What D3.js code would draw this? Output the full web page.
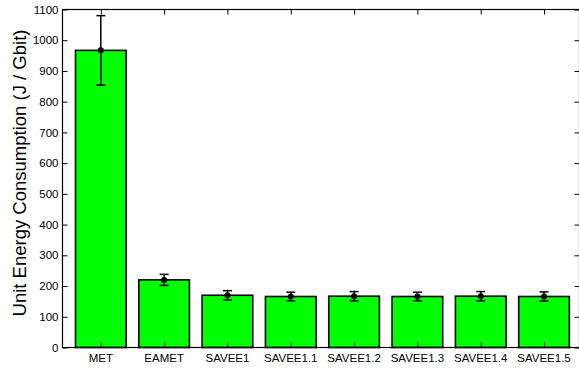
<!DOCTYPE html>
<html>
<head>
<meta charset="utf-8">
<script src="https://cdn.jsdelivr.net/npm/d3@7"></script>
<style>
  html, body { margin: 0; padding: 0; background: #fff; }
  svg { display: block; }
  text { font-family: "Liberation Sans", Arial, Helvetica, sans-serif; fill: #000; }
</style>
</head>
<body>
<script>
// Unit energy consumption per scheme, with error bars
const categories = ["MET", "EAMET", "SAVEE1", "SAVEE1.1", "SAVEE1.2", "SAVEE1.3", "SAVEE1.4", "SAVEE1.5"];
const values = [967, 220, 170, 166, 167, 166, 167, 166];
const errors = [113, 18, 15, 14, 15, 14, 15, 15];
const yTicks = [0, 100, 200, 300, 400, 500, 600, 700, 800, 900, 1000, 1100];
const yLabel = "Unit Energy Consumption (J / Gbit)";

const W = 579, H = 368;
const plot = { left: 62.5, right: 579.5, top: 9.5, bottom: 347.5 };

const svg = d3.select("body").append("svg").attr("width", W).attr("height", H);

const x = d3.scaleLinear().domain([0.395, 8.56]).range([plot.left, plot.right]);
const y = d3.scaleLinear().domain([0, 1100]).range([plot.bottom, plot.top]);
const barW = x(0.8) - x(0);

const data = categories.map((c, i) => ({ c, i: i + 1, v: values[i], e: errors[i] }));

// bars
svg.append("g").selectAll("rect").data(data).join("rect")
  .attr("x", d => x(d.i) - barW / 2)
  .attr("y", d => y(d.v))
  .attr("width", barW)
  .attr("height", d => y(0) - y(d.v))
  .attr("fill", "#00ff00")
  .attr("stroke", "#000")
  .attr("stroke-width", 1.6);

// error bars
const eb = svg.append("g").attr("stroke", "#000").attr("stroke-width", 1.5);
const capHalf = 4.5;
data.forEach(d => {
  const cx = x(d.i);
  eb.append("line").attr("x1", cx).attr("x2", cx).attr("y1", y(d.v - d.e)).attr("y2", y(d.v + d.e));
  eb.append("line").attr("x1", cx - capHalf).attr("x2", cx + capHalf).attr("y1", y(d.v + d.e)).attr("y2", y(d.v + d.e));
  eb.append("line").attr("x1", cx - capHalf).attr("x2", cx + capHalf).attr("y1", y(d.v - d.e)).attr("y2", y(d.v - d.e));
});
svg.append("g").selectAll("circle").data(data).join("circle")
  .attr("cx", d => x(d.i)).attr("cy", d => y(d.v)).attr("r", 3).attr("fill", "#000");

// axes: ticks pointing inward on all four sides
const tickLen = 5;
const axisLeft = svg.append("g").attr("transform", `translate(${plot.left},0)`)
  .call(d3.axisRight(y).tickValues(yTicks).tickSize(tickLen).tickFormat(""));
const axisRight = svg.append("g").attr("transform", `translate(${plot.right},0)`)
  .call(d3.axisLeft(y).tickValues(yTicks).tickSize(tickLen).tickFormat(""));
const axisTop = svg.append("g").attr("transform", `translate(0,${plot.top})`)
  .call(d3.axisBottom(x).tickValues(data.map(d => d.i)).tickSize(tickLen).tickFormat(""));
const axisBottom = svg.append("g").attr("transform", `translate(0,${plot.bottom})`)
  .call(d3.axisTop(x).tickValues(data.map(d => d.i)).tickSize(tickLen).tickFormat(""));
[axisLeft, axisRight, axisTop, axisBottom].forEach(g => {
  g.select(".domain").remove();
  g.selectAll("line").attr("stroke", "#000").attr("stroke-width", 1);
});

// frame
svg.append("rect")
  .attr("x", plot.left).attr("y", plot.top)
  .attr("width", plot.right - plot.left).attr("height", plot.bottom - plot.top)
  .attr("fill", "none").attr("stroke", "#000").attr("stroke-width", 1.2);

// tick labels
svg.append("g").selectAll("text").data(yTicks).join("text")
  .attr("x", plot.left - 4).attr("y", d => y(d)).attr("dy", "0.36em")
  .attr("text-anchor", "end").attr("font-size", "11.5px").text(d => d);
svg.append("g").selectAll("text").data(data).join("text")
  .attr("x", d => x(d.i)).attr("y", 362)
  .attr("text-anchor", "middle").attr("font-size", "11.5px").text(d => d.c);

// y-axis title
svg.append("text")
  .attr("transform", "translate(26,173) rotate(-90)")
  .attr("text-anchor", "middle").attr("font-size", "18.5px").text(yLabel);
</script>
</body>
</html>
